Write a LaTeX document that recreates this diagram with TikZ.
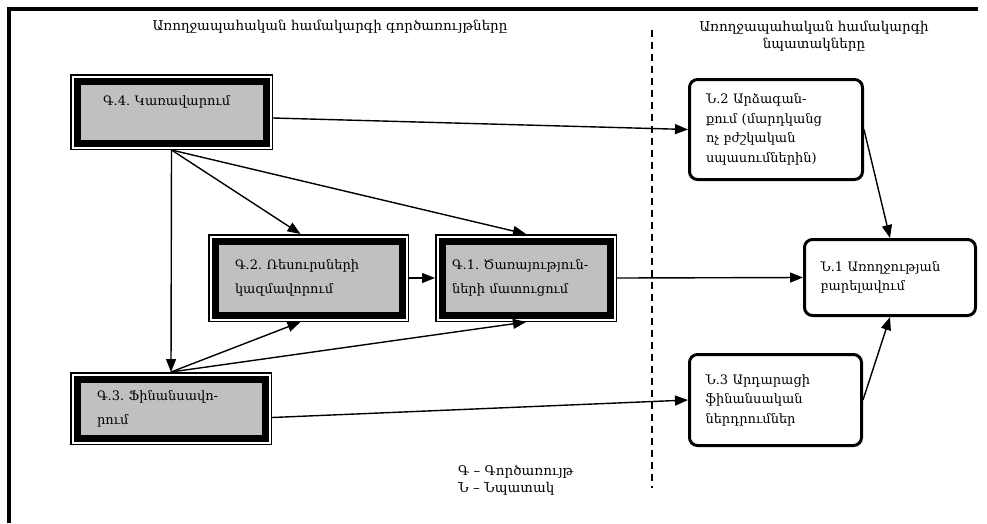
\documentclass[tikz,border=0pt]{standalone}
\usepackage{fontspec}
\setmainfont{DejaVu Serif}
\frenchspacing
\usetikzlibrary{arrows.meta}

\definecolor{funcgray}{RGB}{192,192,192}

\tikzset{
  func/.style={fill=funcgray, draw=black, line width=7pt, outer sep=7pt,
    preaction={draw=black, line width=14pt},
    preaction={draw=white, line width=11pt},
    align=left, inner sep=0pt, font=\fontsize{13}{24}\selectfont},
  goal/.style={draw=black, line width=3pt, rounded corners=8pt, outer sep=1.5pt,
    align=left, inner sep=0pt, font=\fontsize{13}{19.5}\selectfont},
  conn/.style={line width=1.4pt, -{Triangle[length=13pt,width=10pt]}},
  plain/.style={font=\fontsize{13.5}{17}\selectfont, inner sep=0pt}
}

\begin{document}
\begin{tikzpicture}[x=1pt, y=-1pt]
  \useasboundingbox (0,0) rectangle (987,523);

  % frame
  \draw[line width=4pt] (9,523) -- (9,9) -- (978,9);

  % headings
  \node[plain] (hfunc) at (330,27) {Առողջապահական համակարգի գործառույթները};
  \node[plain, align=center] (hgoal) at (814,36) {Առողջապահական համակարգի\\նպատակները};

  % dashed separator
  \draw[line width=1.4pt, dash pattern=on 7pt off 5pt] (652,30) -- (652,488);

  % functions
  \node[func, minimum width=189pt, minimum height=62pt, text width=137pt]
    (g4) at (171.5,112) {Գ.4. Կառավարում\\\mbox{}};
  \node[func, minimum width=187pt, minimum height=74pt, text width=147pt]
    (g2) at (308.5,278) {Գ.2. Ռեսուրսների\\կազմավորում};
  \node[func, minimum width=168pt, minimum height=74pt, text width=148pt]
    (g1) at (526,278) {Գ.1. Ծառայություն-\\ների մատուցում};
  \node[func, minimum width=188pt, minimum height=59pt, text width=148pt]
    (g3) at (171,408.5) {Գ.3. Ֆինանսավո-\\րում};

  % goals
  \node[goal, minimum width=173pt, minimum height=100pt, text width=140pt]
    (n2) at (776,129.5) {Ն.2 Արձագան-\\քում (մարդկանց\\ոչ բժշկական\\սպասումներին)};
  \node[goal, minimum width=171pt, minimum height=76pt, text width=139pt]
    (n1) at (890,277.5) {Ն.1 Առողջության\\բարելավում};
  \node[goal, minimum width=172pt, minimum height=91pt, text width=140pt]
    (n3) at (775.5,400) {Ն.3 Արդարացի\\ֆինանսական\\ներդրումներ};

  % connectors
  \draw[conn] ([yshift=-6pt]g4.east) -- (n2.west);
  \draw[conn] (g4.south) -- ([xshift=-8pt]g2.north);
  \draw[conn] (g4.south) -- (g1.north);
  \draw[conn] (g4.south) -- (g3.north);
  \draw[conn] (g3.north) -- ([xshift=-8pt]g2.south);
  \draw[conn] (g3.north) -- (g1.south);
  \draw[conn] (g2.east) -- (g1.west);
  \draw[conn] (g1.east) -- (n1.west);
  \draw[conn] ([yshift=-9pt]g3.east) -- (n3.west);
  \draw[conn] (n2.east) -- (n1.north);
  \draw[conn] (n3.east) -- (n1.south);

  % legend
  \node[plain, align=left, anchor=west] (lgd) at (458,480) {Գ – Գործառույթ\\Ն – Նպատակ};
\end{tikzpicture}
\end{document}
